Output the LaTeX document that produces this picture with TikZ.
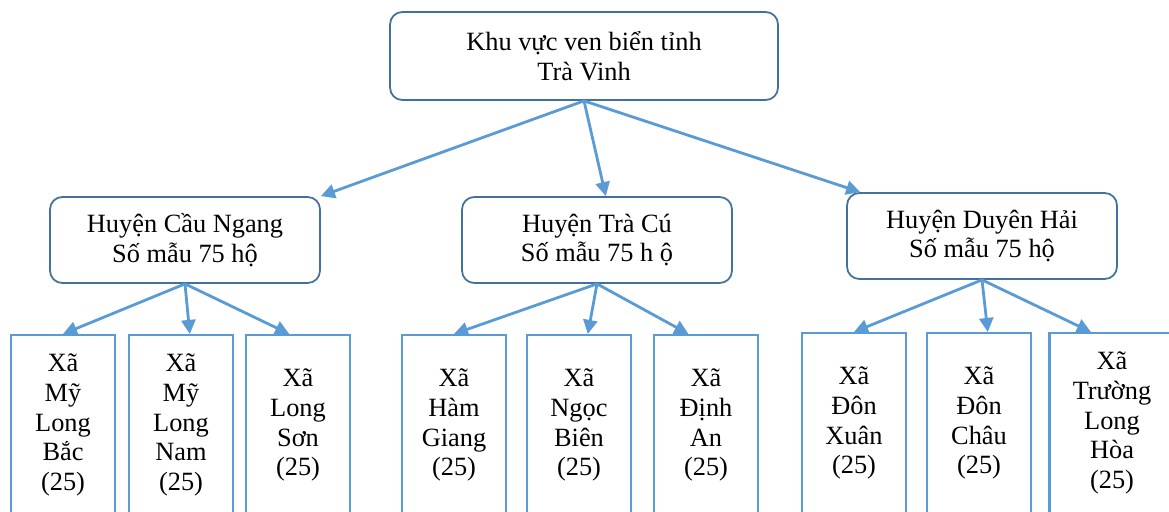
\documentclass[tikz,border=0pt]{standalone}
\usepackage{fontspec}
\setmainfont{Liberation Serif}
\usetikzlibrary{arrows.meta}
\definecolor{boxline}{RGB}{65,113,156}
\definecolor{arrowblue}{RGB}{91,155,213}

\begin{document}
\begin{tikzpicture}[
			x=0.02cm, y=-0.02cm,
			region/.style={
				rectangle,
				draw=boxline,
				rounded corners=7pt,
				line width=1pt,
				minimum width=7.76cm,
				minimum height=1.76cm,
				align=center,
				font=\fontsize{15}{17}\selectfont
			},
			district/.style={
				region,
				minimum width=5.4cm,
				minimum height=1.72cm
			},
			commune/.style={
				rectangle,
				draw=arrowblue,
				line width=1.2pt,
				minimum width=2.08cm,
				minimum height=3.6cm,
				align=center,
				font=\fontsize{15}{17}\selectfont
			},
			arrow/.style={
				-{Triangle[length=8pt,width=8pt]},
				draw=arrowblue,
				line width=1.6pt
			}
			]
			\clip (0,0) rectangle (1169,511);
			
			\node (coast) [region] at (584,56) {Khu vực ven biển tỉnh\\Trà Vinh};
			
			\node (caungang) [district] at (185,240) {Huyện Cầu Ngang\\Số mẫu 75 hộ};
			\node (tracu) [district] at (597,240) {Huyện Trà Cú\\Số mẫu 75 h ộ};
			\node (duyenhai) [district] at (982,236) {Huyện Duyên Hải\\Số mẫu 75 hộ};
			
			\node (mlbac) [commune] at (63,425) {Xã\\Mỹ\\Long\\Bắc\\(25)};
			\node (mlnam) [commune] at (181,425) {Xã\\Mỹ\\Long\\Nam\\(25)};
			\node (lson) [commune] at (298,425) {Xã\\Long\\Sơn\\(25)};
			\node (hgiang) [commune] at (454,425) {Xã\\Hàm\\Giang\\(25)};
			\node (nbien) [commune] at (579,425) {Xã\\Ngọc\\Biên\\(25)};
			\node (dan) [commune] at (706,425) {Xã\\Định\\An\\(25)};
			\node (dxuan) [commune] at (854,423) {Xã\\Đôn\\Xuân\\(25)};
			\node (dchau) [commune] at (979,423) {Xã\\Đôn\\Châu\\(25)};
			\node (tlhoa) [commune, minimum width=2.5cm] at (1112,423) {Xã\\Trường\\Long\\Hòa\\(25)};
			
			\draw [arrow] (coast.south) -- (caungang.north east);
			\draw [arrow] (coast.south) -- ([xshift=5pt]tracu.north);
			\draw [arrow] (coast.south) -- ([xshift=8pt]duyenhai.north west);
			
			\draw [arrow] (caungang.south) -- (mlbac.north);
			\draw [arrow] (caungang.south) -- ([xshift=5pt]mlnam.north);
			\draw [arrow] (caungang.south) -- ([xshift=-5pt]lson.north);
			
			\draw [arrow] (tracu.south) -- (hgiang.north);
			\draw [arrow] (tracu.south) -- ([xshift=5pt]nbien.north);
			\draw [arrow] (tracu.south) -- ([xshift=-10pt]dan.north);
			
			\draw [arrow] (duyenhai.south) -- (dxuan.north);
			\draw [arrow] (duyenhai.south) -- ([xshift=5pt]dchau.north);
			\draw [arrow] (duyenhai.south) -- ([xshift=-12pt]tlhoa.north);
			
		\end{tikzpicture}
\end{document}
